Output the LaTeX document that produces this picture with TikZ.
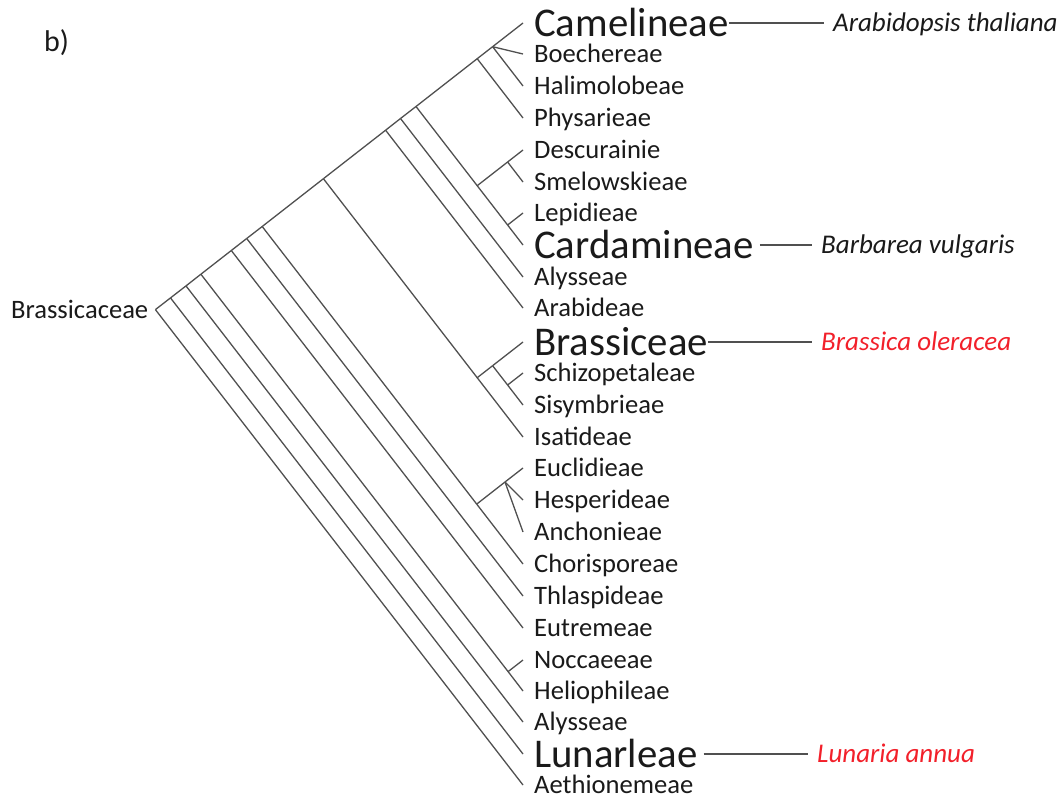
\documentclass[tikz,border=0pt]{standalone}
\usepackage{fontspec}
\setmainfont{Carlito}
\usepackage{tikz}
\usetikzlibrary{positioning}
\definecolor{tinta}{HTML}{1A1A1A}
\definecolor{rama}{HTML}{505050}
\definecolor{rojo}{HTML}{F2202A}
\tikzset{
  arista/.style={draw=rama,line width=1.3pt},
  tribu/.style={inner sep=0pt,text=tinta,font=\fontsize{26.6}{30}\selectfont,text height=17pt,text depth=0pt},
  tribugrande/.style={tribu,font=\fontsize{40.8}{46}\selectfont,text height=26pt},
  especie/.style={anchor=west,inner xsep=9pt,inner ysep=0pt,text=tinta,font=\fontsize{27}{30}\selectfont\itshape,text height=17pt,text depth=0pt},
  panel/.style={anchor=west,inner sep=0pt,text=tinta,font=\fontsize{30}{34}\selectfont},
}

\begin{document}
\begin{tikzpicture}[x=1pt,y=-1pt]
\useasboundingbox (0,0) rectangle (1064,798);
% puntas de las hojas
\coordinate (tcam) at (523,23);
\coordinate (tboe) at (523,54);
\coordinate (thal) at (523,86);
\coordinate (tphy) at (523,118);
\coordinate (tdes) at (523,150);
\coordinate (tsme) at (523,182);
\coordinate (tlep) at (523,213);
\coordinate (tcar) at (523,245);
\coordinate (taly) at (523,277);
\coordinate (tara) at (523,308);
\coordinate (tbra) at (523,342);
\coordinate (tsch) at (523,373);
\coordinate (tsis) at (523,405);
\coordinate (tisa) at (523,437);
\coordinate (teuc) at (523,468);
\coordinate (thes) at (523,500);
\coordinate (tanc) at (523,532);
\coordinate (tcho) at (523,564);
\coordinate (tthl) at (523,596);
\coordinate (teut) at (523,628);
\coordinate (tnoc) at (523,660);
\coordinate (thel) at (523,691);
\coordinate (taly2) at (523,722);
\coordinate (tlun) at (523,754);
\coordinate (taet) at (523,785);
% nodos internos
\coordinate (n1) at (492.6,46.7);
\coordinate (n2) at (477.2,58.7);
\coordinate (ds) at (507.6,162.0);
\coordinate (lc) at (507.6,225.0);
\coordinate (d) at (477.2,185.7);
\coordinate (n3) at (416.0,106.5);
\coordinate (n4) at (400.5,118.5);
\coordinate (n5) at (385.6,130.2);
\coordinate (y) at (507.6,385.0);
\coordinate (x) at (492.6,365.7);
\coordinate (b) at (477.2,377.7);
\coordinate (n6) at (323.4,178.7);
\coordinate (e) at (476.7,504.1);
\coordinate (ehb) at (505,482);
\coordinate (n7) at (262.2,226.5);
\coordinate (n8) at (246.7,238.5);
\coordinate (n9) at (231.3,250.5);
\coordinate (nh) at (508.1,671.6);
\coordinate (n10) at (200.9,274.2);
\coordinate (n11) at (186.0,285.9);
\coordinate (n12) at (170.5,297.9);
\coordinate (raiz) at (155.4,309.6);
% ramas
\draw[arista] (n1) -- (tcam);
\draw[arista] (n1) -- (tboe);
\draw[arista] (n1) -- (thal);
\draw[arista] (n2) -- (n1);
\draw[arista] (n2) -- (tphy);
\draw[arista] (ds) -- (tdes);
\draw[arista] (ds) -- (tsme);
\draw[arista] (lc) -- (tlep);
\draw[arista] (lc) -- (tcar);
\draw[arista] (d) -- (ds);
\draw[arista] (d) -- (lc);
\draw[arista] (n3) -- (n2);
\draw[arista] (n3) -- (d);
\draw[arista] (n4) -- (n3);
\draw[arista] (n4) -- (taly);
\draw[arista] (n5) -- (n4);
\draw[arista] (n5) -- (tara);
\draw[arista] (y) -- (tsch);
\draw[arista] (y) -- (tsis);
\draw[arista] (x) -- (tbra);
\draw[arista] (x) -- (y);
\draw[arista] (b) -- (x);
\draw[arista] (b) -- (tisa);
\draw[arista] (n6) -- (n5);
\draw[arista] (n6) -- (b);
\draw[arista] (ehb) -- (teuc);
\draw[arista] (ehb) -- (thes);
\draw[arista] (ehb) -- (tanc);
\draw[arista] (e) -- (ehb);
\draw[arista] (e) -- (tcho);
\draw[arista] (n7) -- (n6);
\draw[arista] (n7) -- (e);
\draw[arista] (n8) -- (n7);
\draw[arista] (n8) -- (tthl);
\draw[arista] (n9) -- (n8);
\draw[arista] (n9) -- (teut);
\draw[arista] (nh) -- (tnoc);
\draw[arista] (nh) -- (thel);
\draw[arista] (n10) -- (n9);
\draw[arista] (n10) -- (nh);
\draw[arista] (n11) -- (n10);
\draw[arista] (n11) -- (taly2);
\draw[arista] (n12) -- (n11);
\draw[arista] (n12) -- (tlun);
\draw[arista] (raiz) -- (n12);
\draw[arista] (raiz) -- (taet);
% rotulos
\node[panel] (letra) at (44,43) {b)};
\node[tribu,left=7pt of raiz] (fam) {Brassicaceae};
\node[tribugrande,right=11pt of tcam] (cam) {Camelineae};
\node[tribu,right=11pt of tboe] (boe) {Boechereae};
\node[tribu,right=11pt of thal] (hal) {Halimolobeae};
\node[tribu,right=11pt of tphy] (phy) {Physarieae};
\node[tribu,right=11pt of tdes] (des) {Descurainie};
\node[tribu,right=11pt of tsme] (sme) {Smelowskieae};
\node[tribu,right=11pt of tlep] (lep) {Lepidieae};
\node[tribugrande,right=11pt of tcar] (car) {Cardamineae};
\node[tribu,right=11pt of taly] (aly) {Alysseae};
\node[tribu,right=11pt of tara] (ara) {Arabideae};
\node[tribugrande,right=11pt of tbra] (bra) {Brassiceae};
\node[tribu,right=11pt of tsch] (sch) {Schizopetaleae};
\node[tribu,right=11pt of tsis] (sis) {Sisymbrieae};
\node[tribu,right=11pt of tisa] (isa) {Isatideae};
\node[tribu,right=11pt of teuc] (euc) {Euclidieae};
\node[tribu,right=11pt of thes] (hes) {Hesperideae};
\node[tribu,right=11pt of tanc] (anc) {Anchonieae};
\node[tribu,right=11pt of tcho] (cho) {Chorisporeae};
\node[tribu,right=11pt of tthl] (thl) {Thlaspideae};
\node[tribu,right=11pt of teut] (eut) {Eutremeae};
\node[tribu,right=11pt of tnoc] (noc) {Noccaeeae};
\node[tribu,right=11pt of thel] (hel) {Heliophileae};
\node[tribu,right=11pt of taly2] (aly2) {Alysseae};
\node[tribugrande,right=11pt of tlun] (lun) {Lunarleae};
\node[tribu,right=11pt of taet] (aet) {Aethionemeae};
% especies modelo
\node[especie] (arab) at (824,23) {Arabidopsis thaliana};
\node[especie] (barb) at (812,245) {Barbarea vulgaris};
\node[especie,text=rojo] (bole) at (812,342) {Brassica oleracea};
\node[especie,text=rojo] (luna) at (808,754) {Lunaria annua};
\draw[arista] (cam.east) -- (arab.west);
\draw[arista] (car.east) ++(6,0) -- (barb.west);
\draw[arista] (bra.east) -- (bole.west);
\draw[arista] (lun.east) ++(6,0) -- (luna.west);
\end{tikzpicture}
\end{document}
